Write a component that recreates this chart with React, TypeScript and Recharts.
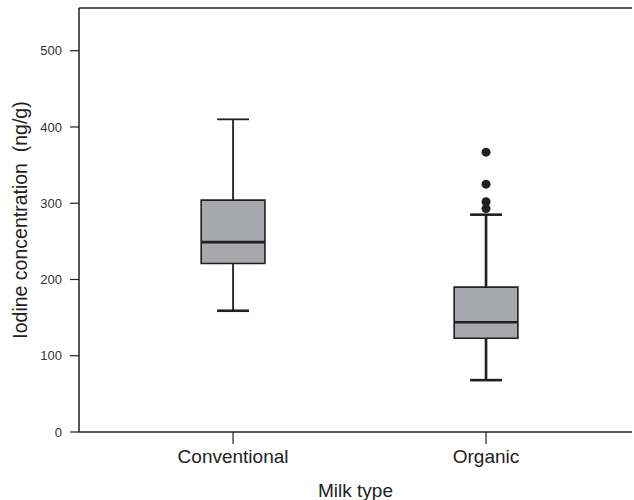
import {
  ComposedChart,
  XAxis,
  YAxis,
  Scatter,
  ReferenceArea,
  ReferenceLine,
} from "recharts";

const categories = ["Conventional", "Organic"];
const positions = [1, 2];
const whiskerLow = [159, 68];
const q1 = [221, 123];
const median = [249, 144];
const q3 = [304, 190];
const whiskerHigh = [410, 285];
const outlierValues = [367, 325, 302, 293];
const outlierGroup = 2;
const yTicks = [0, 100, 200, 300, 400, 500];
const yMax = 556;

const INK = "#231f20";
const BOX_FILL = "#a7a8ab";
const BOX_HALF = 0.126;
const CAP_HALF = 0.063;
const whiskerWidth = [1.8, 2.6];

const outliers = outlierValues.map((y) => ({ x: outlierGroup, y }));

const Dot = (props: any) => (
  <circle cx={props.cx} cy={props.cy} r={4.5} fill={INK} />
);

export default function App() {
  return (
    <div
      style={{
        position: "absolute",
        left: 0,
        top: 0,
        background: "#fff",
        fontFamily: "'Liberation Sans', Arial, sans-serif",
      }}
    >
      <ComposedChart
        width={634}
        height={500}
        margin={{ top: 8, right: 2, left: 0, bottom: 0 }}
      >
        <XAxis
          type="number"
          dataKey="x"
          domain={[0.391, 2.577]}
          ticks={positions}
          tickFormatter={(v) => categories[positions.indexOf(v)] ?? ""}
          height={68}
          tickSize={12}
          tickMargin={6}
          axisLine={{ stroke: INK, strokeWidth: 1.5 }}
          tickLine={{ stroke: INK, strokeWidth: 1.2 }}
          tick={{ fill: "#222", fontSize: 19 }}
          allowDataOverflow
          label={{
            value: "Milk type",
            position: "insideBottom",
            offset: 3,
            fill: "#222",
            fontSize: 19,
          }}
        />
        <YAxis
          type="number"
          dataKey="y"
          domain={[0, yMax]}
          ticks={yTicks}
          width={79}
          tickSize={9}
          tickMargin={8}
          axisLine={{ stroke: INK, strokeWidth: 1.5 }}
          tickLine={{ stroke: INK, strokeWidth: 1.2 }}
          tick={{ fill: "#333", fontSize: 13 }}
          allowDataOverflow
          label={{
            value: "Iodine concentration\u00a0 (ng/g)",
            angle: -90,
            position: "insideLeft",
            offset: 20,
            fill: "#222",
            fontSize: 19.5,
            style: { textAnchor: "middle" },
          }}
        />
        <ReferenceLine y={yMax} stroke={INK} strokeWidth={1.5} />
        {positions.map((p, i) => (
          <ReferenceLine
            key={`wu-${i}`}
            segment={[
              { x: p, y: q3[i] },
              { x: p, y: whiskerHigh[i] },
            ]}
            stroke={INK}
            strokeWidth={whiskerWidth[i]}
          />
        ))}
        {positions.map((p, i) => (
          <ReferenceLine
            key={`wl-${i}`}
            segment={[
              { x: p, y: whiskerLow[i] },
              { x: p, y: q1[i] },
            ]}
            stroke={INK}
            strokeWidth={whiskerWidth[i]}
          />
        ))}
        {positions.map((p, i) => (
          <ReferenceLine
            key={`ch-${i}`}
            segment={[
              { x: p - CAP_HALF, y: whiskerHigh[i] },
              { x: p + CAP_HALF, y: whiskerHigh[i] },
            ]}
            stroke={INK}
            strokeWidth={whiskerWidth[i]}
          />
        ))}
        {positions.map((p, i) => (
          <ReferenceLine
            key={`cl-${i}`}
            segment={[
              { x: p - CAP_HALF, y: whiskerLow[i] },
              { x: p + CAP_HALF, y: whiskerLow[i] },
            ]}
            stroke={INK}
            strokeWidth={2.6}
          />
        ))}
        {positions.map((p, i) => (
          <ReferenceArea
            key={`box-${i}`}
            x1={p - BOX_HALF}
            x2={p + BOX_HALF}
            y1={q1[i]}
            y2={q3[i]}
            fill={BOX_FILL}
            fillOpacity={1}
            stroke={INK}
            strokeWidth={1.6}
          />
        ))}
        {positions.map((p, i) => (
          <ReferenceLine
            key={`med-${i}`}
            segment={[
              { x: p - BOX_HALF, y: median[i] },
              { x: p + BOX_HALF, y: median[i] },
            ]}
            stroke={INK}
            strokeWidth={2.6}
          />
        ))}
        <Scatter data={outliers} shape={Dot} isAnimationActive={false} />
      </ComposedChart>
    </div>
  );
}
